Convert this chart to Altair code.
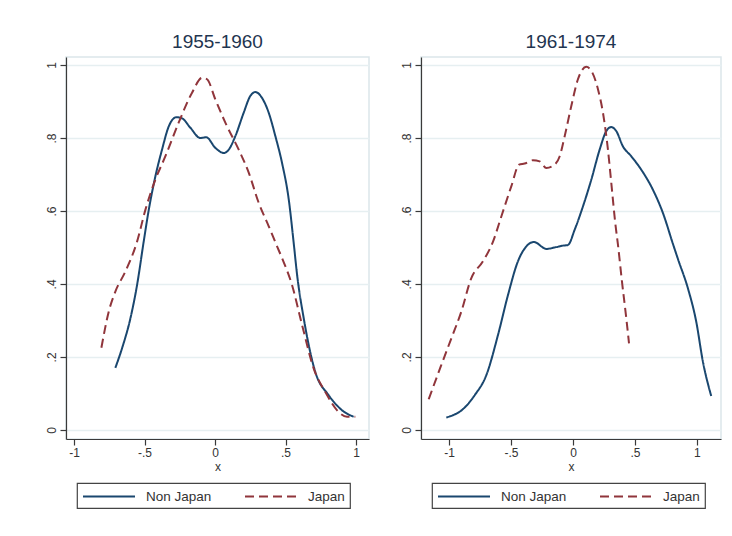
import altair as alt
import pandas as pd

# ---------------- data ----------------
titles = ["1955-1960", "1961-1974"]
series = ["Non Japan", "Japan"]

p1_non_x = [-0.707, -0.66, -0.60, -0.553, -0.506, -0.47, -0.423, -0.376, -0.328, -0.274,
            -0.234, -0.175, -0.104, -0.062, 0.002, 0.062, 0.097, 0.144, 0.203, 0.25,
            0.286, 0.333, 0.381, 0.428, 0.475, 0.523, 0.558, 0.582, 0.629, 0.711,
            0.806, 0.90, 0.983]
p1_non_y = [0.170, 0.223, 0.306, 0.397, 0.516, 0.603, 0.695, 0.768, 0.832, 0.857,
            0.854, 0.828, 0.800, 0.802, 0.773, 0.759, 0.768, 0.805, 0.869, 0.915,
            0.926, 0.910, 0.869, 0.805, 0.732, 0.631, 0.512, 0.425, 0.306, 0.159,
            0.095, 0.054, 0.036]

p1_jap_x = [-0.806, -0.754, -0.707, -0.636, -0.553, -0.494, -0.423, -0.352, -0.258, -0.163,
            -0.092, -0.057, 0.002, 0.073, 0.168, 0.239, 0.31, 0.381, 0.44, 0.475,
            0.546, 0.617, 0.70, 0.782, 0.877, 0.936, 0.995]
p1_jap_y = [0.225, 0.324, 0.379, 0.434, 0.516, 0.603, 0.686, 0.750, 0.842, 0.924,
            0.965, 0.961, 0.906, 0.842, 0.768, 0.705, 0.622, 0.558, 0.503, 0.471,
            0.397, 0.288, 0.168, 0.104, 0.049, 0.036, 0.036]

p2_non_x = [-1.022, -0.874, -0.793, -0.699, -0.605, -0.524, -0.444, -0.376, -0.315, -0.215,
            -0.148, -0.081, -0.04, 0.014, 0.081, 0.148, 0.215, 0.269, 0.309, 0.349,
            0.403, 0.470, 0.551, 0.645, 0.726, 0.806, 0.847, 0.927, 0.994, 1.048, 1.115]
p2_non_y = [0.034, 0.061, 0.095, 0.150, 0.260, 0.370, 0.462, 0.503, 0.515, 0.496,
            0.500, 0.505, 0.507, 0.549, 0.613, 0.686, 0.768, 0.819, 0.830, 0.819,
            0.777, 0.750, 0.713, 0.658, 0.594, 0.510, 0.468, 0.388, 0.297, 0.187, 0.093]

p2_jap_x = [-1.164, -1.062, -0.981, -0.901, -0.82, -0.726, -0.645, -0.578, -0.497, -0.435,
            -0.39, -0.323, -0.269, -0.215, -0.148, -0.107, -0.067, -0.014, 0.04, 0.107,
            0.148, 0.202, 0.242, 0.282, 0.309, 0.341, 0.363, 0.395, 0.43, 0.452]
p2_jap_y = [0.084, 0.178, 0.251, 0.324, 0.416, 0.462, 0.516, 0.585, 0.668, 0.727,
            0.730, 0.739, 0.736, 0.718, 0.727, 0.750, 0.805, 0.887, 0.961, 0.995,
            0.984, 0.933, 0.869, 0.768, 0.677, 0.567, 0.507, 0.407, 0.306, 0.237]

x_tick_values = [-1, -0.5, 0, 0.5, 1]
x_tick_labels = ["-1", "-.5", "0", ".5", "1"]
y_tick_values = [0, 0.2, 0.4, 0.6, 0.8, 1]
y_tick_labels = ["0", ".2", ".4", ".6", ".8", "1"]

x_domains = [[-1.057, 1.092], [-1.226, 1.194]]
y_domain = [-0.025, 1.022]

colors = ["#1a476f", "#90353b"]
dashes = [[1, 0], [9, 5]]
FONT = "Liberation Sans"


def label_expr(values, labels):
    parts = []
    for v, l in zip(values, labels):
        parts.append(f"abs(datum.value - ({v})) < 1e-9 ? '{l}' : ")
    return "".join(parts) + "''"


def frame(xs_a, ys_a, xs_b, ys_b):
    rows = []
    for i, (x, y) in enumerate(zip(xs_a, ys_a)):
        rows.append({"x": x, "y": y, "s": series[0], "o": i})
    for i, (x, y) in enumerate(zip(xs_b, ys_b)):
        rows.append({"x": x, "y": y, "s": series[1], "o": i})
    return pd.DataFrame(rows)


legend = alt.Legend(title=None, orient="none", legendX=11, legendY=426,
                    direction="horizontal")


def panel(df, title, xdom, w):
    return (
        alt.Chart(df)
        .mark_line(strokeWidth=2, clip=False, interpolate="monotone")
        .encode(
            x=alt.X("x:Q", scale=alt.Scale(domain=xdom, nice=False, zero=False),
                    axis=alt.Axis(values=x_tick_values, title="x", labelPadding=2,
                                  titlePadding=3,
                                  labelExpr=label_expr(x_tick_values, x_tick_labels),
                                  grid=False)),
            y=alt.Y("y:Q", scale=alt.Scale(domain=y_domain, nice=False, zero=False),
                    axis=alt.Axis(values=y_tick_values, title=None, labelAngle=270,
                                  labelAlign="center", labelBaseline="bottom",
                                  labelPadding=2,
                                  labelExpr=label_expr(y_tick_values, y_tick_labels),
                                  grid=True)),
            color=alt.Color("s:N", scale=alt.Scale(domain=series, range=colors),
                            legend=legend),
            strokeDash=alt.StrokeDash("s:N", scale=alt.Scale(domain=series, range=dashes),
                                      legend=legend),
            order="o:Q",
        )
        .properties(width=w, height=382,
                    title=alt.TitleParams(title, anchor="middle", frame="group"))
    )


left = panel(frame(p1_non_x, p1_non_y, p1_jap_x, p1_jap_y), titles[0], x_domains[0], 303)
right = panel(frame(p2_non_x, p2_non_y, p2_jap_x, p2_jap_y), titles[1], x_domains[1], 300)

chart = (
    alt.hconcat(left, right, spacing=29)
    .resolve_scale(x="independent", color="independent", strokeDash="independent")
    .properties(padding={"left": 36, "top": 24, "right": 0, "bottom": 0},
                background="white")
    .configure_view(stroke="#dbe6ea", strokeWidth=1.5)
    .configure_axis(
        domainColor="#3a3a3a", domainWidth=1.2, tickColor="#3a3a3a", tickSize=6,
        tickWidth=1.2, labelColor="#333333", labelFont=FONT, labelFontSize=12,
        titleFont=FONT, titleFontSize=12, titleColor="#333333",
        titleFontWeight="normal", gridColor="#e6eff1", gridWidth=1.5,
    )
    .configure_title(font=FONT, fontSize=19, color="#1f3550", fontWeight="normal",
                     offset=5)
    .configure_legend(
        strokeColor="#444444", strokeWidth=1.2, padding=5,
        symbolType="M-1,0H5.933", symbolSize=225, symbolStrokeWidth=2,
        labelFont=FONT, labelFontSize=13.5, labelColor="#333333", labelOffset=47,
        columnPadding=29,
    )
)

chart.save("out.html", embed_options={"renderer": "svg", "actions": False})
